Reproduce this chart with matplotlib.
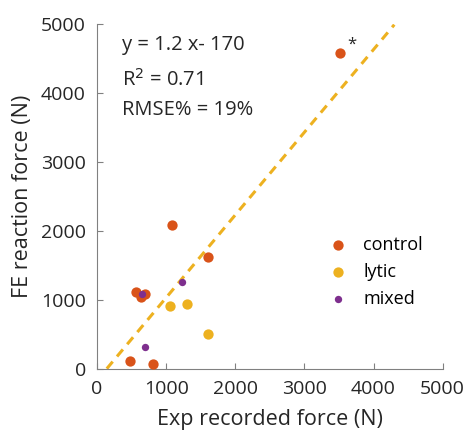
import matplotlib.pyplot as plt
import numpy as np

plt.rcParams['font.family'] = ['Open Sans', 'DejaVu Sans']

# measured vs simulated force per group
control_x = [3510, 1080, 1600, 560, 700, 640, 480, 815]
control_y = [4575, 2085, 1620, 1110, 1090, 1040, 110, 65]
lytic_x = [1050, 1300, 1600]
lytic_y = [910, 935, 505]
mixed_x = [1235, 645, 700]
mixed_y = [1255, 1080, 320]

slope = 1.2
intercept = -170
fit_x = [142, 4300]

c_control = '#D95319'
c_lytic = '#EDB120'
c_mixed = '#7E2F8E'
txt = '#262626'

fig = plt.figure(figsize=(4.65, 4.34), dpi=100)
ax = fig.add_axes([0.2086, 0.1505, 0.7434, 0.7942])

fx = np.array(fit_x)
ax.plot(fx, slope * fx + intercept, '--', color=c_lytic, lw=2.2, dashes=(3, 2.2), zorder=1)

ax.scatter(control_x, control_y, s=55, color=c_control, label='control', zorder=3, linewidths=0)
ax.scatter(lytic_x, lytic_y, s=55, color=c_lytic, label='lytic', zorder=3, linewidths=0)
ax.scatter(mixed_x, mixed_y, s=28, color=c_mixed, label='mixed', zorder=4, linewidths=0)

ax.text(3620, 4700, '*', fontsize=12, color=txt, va='center')
ax.text(358, 4700, 'y = 1.2 x- 170', fontsize=14.5, color=txt, va='center')
ax.text(358, 4190, 'R$^2$ = 0.71', fontsize=14.5, color=txt, va='center')
ax.text(358, 3755, 'RMSE% = 19%', fontsize=14.5, color=txt, va='center')

ax.set_xlim(0, 5000)
ax.set_ylim(0, 5000)
ax.set_xticks(range(0, 5001, 1000))
ax.set_yticks(range(0, 5001, 1000))
ax.tick_params(direction='in', labelsize=14, length=4, pad=8,
               colors='#808080', labelcolor=txt)
for s in ['top', 'right']:
    ax.spines[s].set_visible(False)
for s in ['left', 'bottom']:
    ax.spines[s].set_color('#808080')

ax.set_xlabel('Exp recorded force (N)', fontsize=15.5, color=txt, labelpad=8)
ax.set_ylabel('FE reaction force (N)', fontsize=15.5, color=txt, labelpad=6)

ax.legend(loc='center left', bbox_to_anchor=(0.624, 0.281), borderaxespad=0,
          frameon=False, fontsize=13, handlelength=2.0, handletextpad=0.39,
          labelspacing=0.5, scatterpoints=1)

fig.savefig('out.png', dpi=100)
